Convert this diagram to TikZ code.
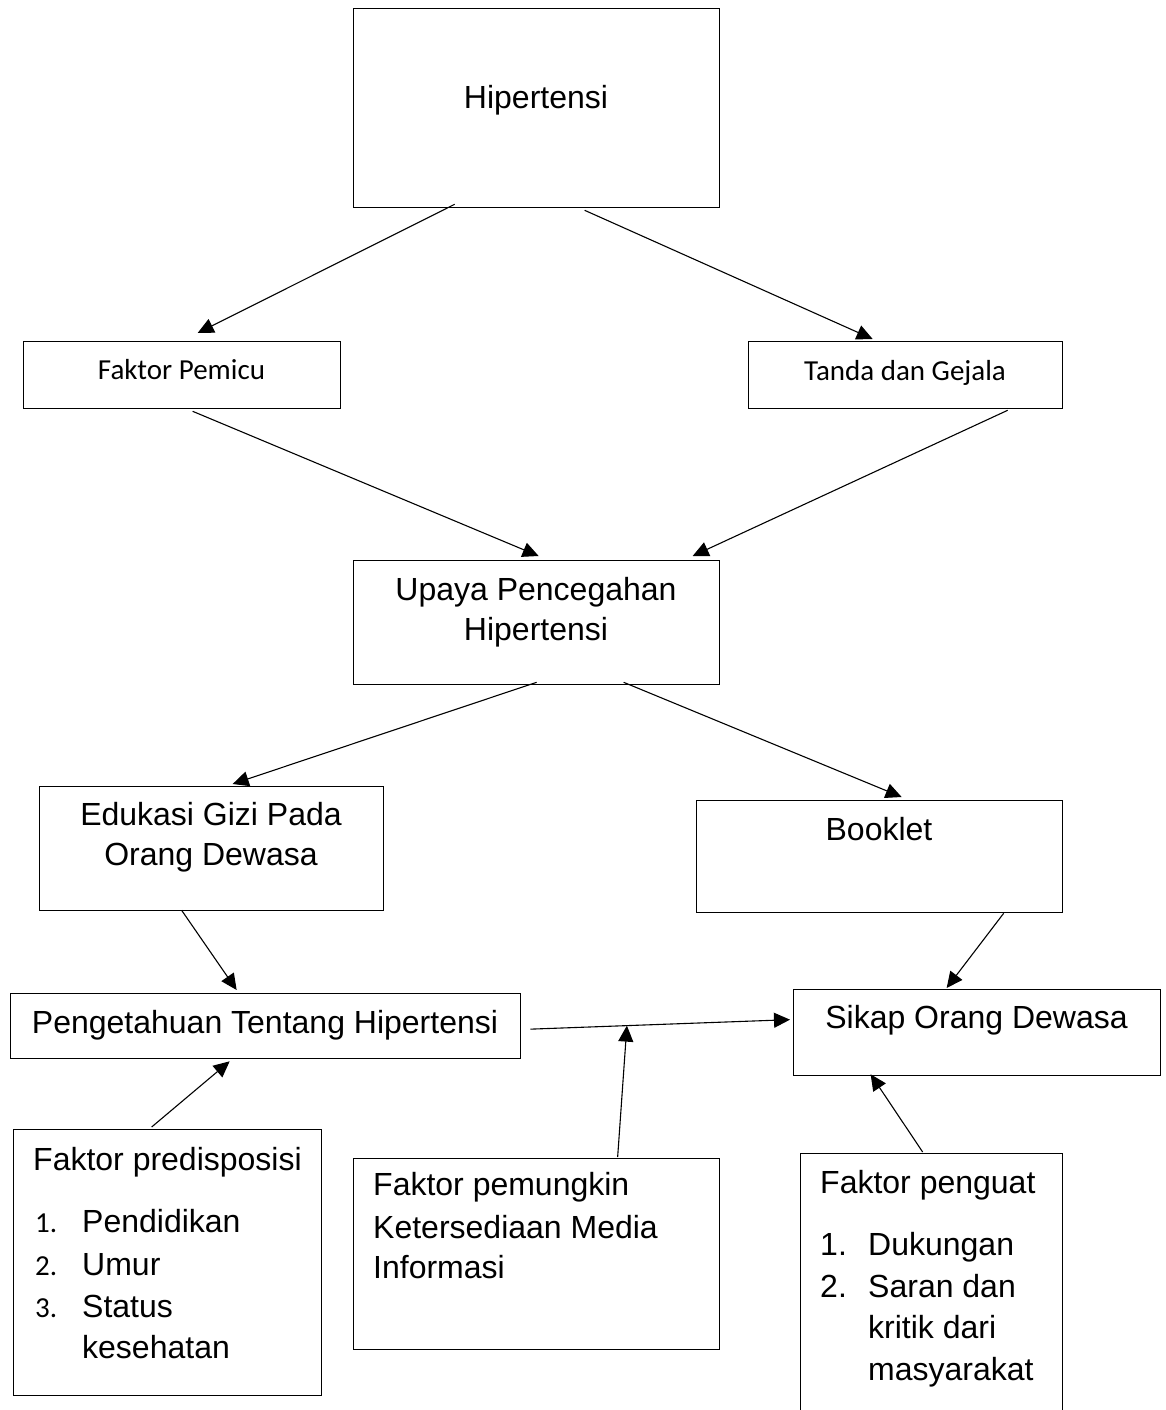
\documentclass[tikz,border=0pt]{standalone}
\usepackage{fontspec}
\setmainfont{Liberation Sans}
\newfontfamily\calibri{Carlito}
\usetikzlibrary{arrows.meta}

\tikzset{
  box/.style={draw, line width=1.3pt, inner sep=0pt, anchor=north west},
  big/.style={font=\fontsize{32}{40}\selectfont, inner sep=0pt, anchor=base},
  small/.style={font=\calibri\fontsize{29}{35}\selectfont, inner sep=0pt, anchor=base},
  arr/.style={-{Triangle[length=16pt,width=15pt]}, line width=1.1pt},
}

\begin{document}
\begin{tikzpicture}[x=1pt,y=-1pt]
\useasboundingbox (0,0) rectangle (1165,1410);
% The boxes
\node[box, minimum width=366pt, minimum height=199pt] (hip) at (353,8) {};
\node[box, minimum width=317pt, minimum height=67pt] (pemicu) at (23,341) {};
\node[box, minimum width=314pt, minimum height=67pt] (gejala) at (748,341) {};
\node[box, minimum width=366pt, minimum height=124pt] (upaya) at (353,560) {};
\node[box, minimum width=344pt, minimum height=124pt] (edukasi) at (39,786) {};
\node[box, minimum width=366pt, minimum height=112pt] (booklet) at (696,800) {};
\node[box, minimum width=510pt, minimum height=65pt] (tahu) at (10,993) {};
\node[box, minimum width=367pt, minimum height=86pt] (sikap) at (793,989) {};
\node[box, minimum width=308pt, minimum height=266pt] (predis) at (13,1129) {};
\node[box, minimum width=366pt, minimum height=191pt] (pemungkin) at (353,1158) {};
\node[box, minimum width=262pt, minimum height=290pt] (penguat) at (800,1153) {};

% The texts
\node[big] (hip-t) at (536,109) {Hipertensi};
\node[small] (pemicu-t) at (181.5,379) {Faktor Pemicu};
\node[small] (gejala-t) at (905,380) {Tanda dan Gejala};
\node[big] (upaya-t1) at (536,600) {Upaya Pencegahan};
\node[big] (upaya-t2) at (536,640) {Hipertensi};
\node[big] (edukasi-t1) at (211,825) {Edukasi Gizi Pada};
\node[big] (edukasi-t2) at (211,865) {Orang Dewasa};
\node[big] (booklet-t) at (879,840) {Booklet};
\node[big] (tahu-t) at (265,1033) {Pengetahuan Tentang Hipertensi};
\node[big] (sikap-t) at (976.5,1028) {Sikap Orang Dewasa};

\node[big, anchor=base west] (predis-t) at (33,1170) {Faktor predisposisi};
\foreach \y/\n in {1232/1, 1275/2, 1317/3}
  \node[small, anchor=base west] (predis-n\n) at (35,\y) {\n.};
\foreach \y/\txt [count=\i] in {1232/Pendidikan, 1275/Umur, 1317/Status, 1358/kesehatan}
  \node[big, anchor=base west] (predis-\i) at (82,\y) {\txt};

\foreach \y/\txt [count=\i] in {1195/Faktor pemungkin, 1238/Ketersediaan Media, 1278/Informasi}
  \node[big, anchor=base west] (pemungkin-\i) at (373,\y) {\txt};

\node[big, anchor=base west] (penguat-t) at (820,1193) {Faktor penguat};
\foreach \y/\n in {1255/1, 1297/2}
  \node[big, anchor=base west] (penguat-n\n) at (820,\y) {\n.};
\foreach \y/\txt [count=\i] in {1255/Dukungan, 1297/Saran dan, 1338/kritik dari, 1380/masyarakat}
  \node[big, anchor=base west] (penguat-\i) at (868,\y) {\txt};

% The arrows
\draw[arr] ([shift={(-82,-4)}]hip.south) -- ([shift={(15.5,-8)}]pemicu.north);
\draw[arr] ([shift={(48,2)}]hip.south) -- ([shift={(-33,-2)}]gejala.north);
\draw[arr] ([shift={(10.5,2)}]pemicu.south) -- ([shift={(2,-4)}]upaya.north);
\draw[arr] ([shift={(102,1)}]gejala.south) -- ([shift={(156,-4)}]upaya.north);
\draw[arr] ([shift={(0,-3)}]upaya.south) -- ([shift={(21,-2)}]edukasi.north);
\draw[arr] ([shift={(87,-3)}]upaya.south) -- ([shift={(22,-3)}]booklet.north);
\draw[arr] ([shift={(-30,-1)}]edukasi.south) -- ([shift={(-29,-3)}]tahu.north);
\draw[arr] ([shift={(124,0)}]booklet.south) -- ([shift={(-30.5,-1)}]sikap.north);
\draw[arr] ([shift={(9,3)}]tahu.east) -- coordinate[pos=0.372] (meet) ([shift={(-3,-13)}]sikap.west);
\draw[arr] ([shift={(81,-1)}]pemungkin.north) -- (meet);
\draw[arr] ([shift={(-16,-2)}]predis.north) -- ([shift={(-36,2)}]tahu.south);
\draw[arr] ([shift={(-9,-1)}]penguat.north) -- ([shift={(-106.5,-2)}]sikap.south);

\end{tikzpicture}
\end{document}
